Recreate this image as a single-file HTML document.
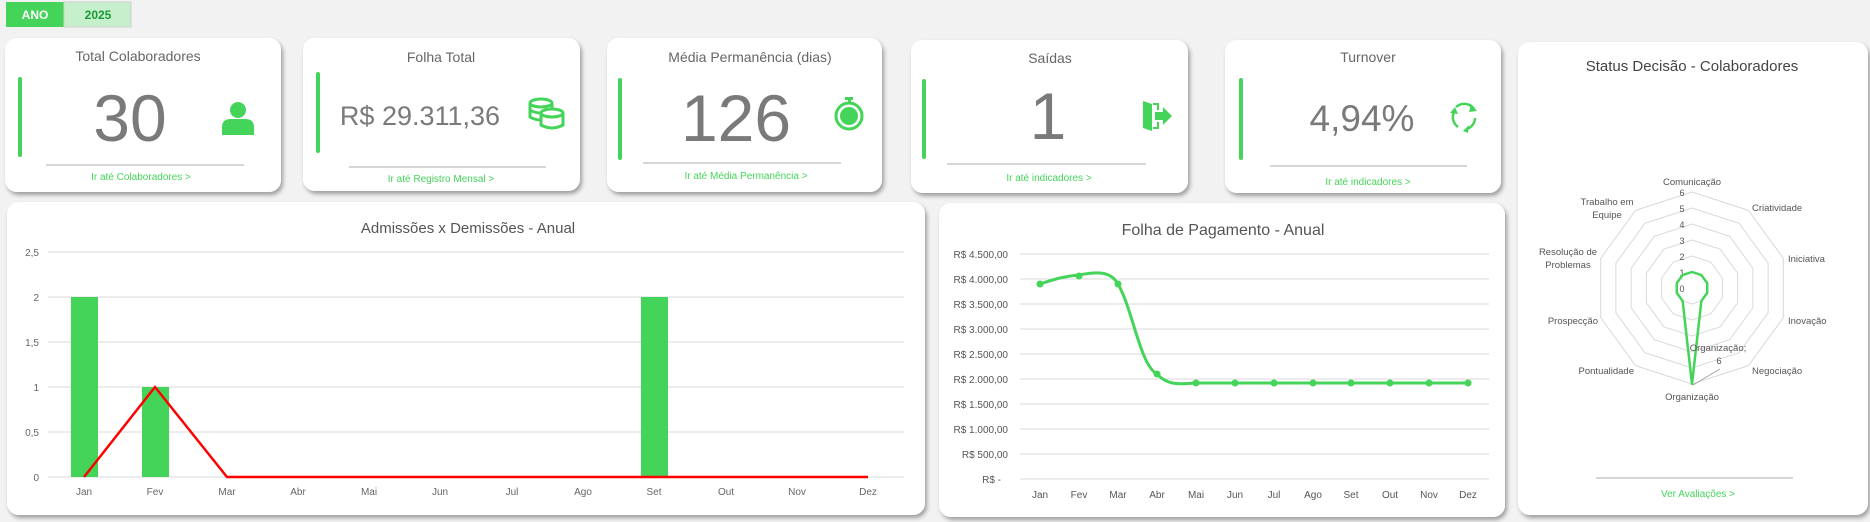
<!DOCTYPE html>
<html><head><meta charset="utf-8"><style>
html,body{margin:0;padding:0;background:#f2f2f2;}
svg{display:block;font-family:"Liberation Sans",sans-serif;}
</style></head><body>
<svg width="1870" height="522" viewBox="0 0 1870 522" xmlns="http://www.w3.org/2000/svg">
<defs>
<filter id="sh" x="-5%" y="-5%" width="112%" height="115%"><feDropShadow dx="2" dy="3" stdDeviation="2" flood-color="#000" flood-opacity="0.35"/></filter>
</defs>
<rect width="1870" height="522" fill="#f2f2f2"/>
<!-- ANO filter -->
<rect x="6" y="2" width="58" height="25" fill="#45d45a"/>
<rect x="64" y="2" width="67" height="25" fill="#c6efcb" stroke="#cfcfcf"/>
<text x="35" y="19" font-size="12" font-weight="bold" fill="#fff" text-anchor="middle">ANO</text>
<text x="98" y="19" font-size="12" font-weight="bold" fill="#1a9a35" text-anchor="middle">2025</text>

<g filter="url(#sh)" fill="#fff">
<rect x="5" y="38" width="276" height="154" rx="12"/>
<rect x="303" y="38" width="277" height="153" rx="12"/>
<rect x="607" y="38" width="275" height="154" rx="12"/>
<rect x="911" y="40" width="277" height="153" rx="12"/>
<rect x="1225" y="40" width="276" height="153" rx="12"/>
<rect x="1518" y="42" width="350" height="473" rx="12"/>
<rect x="7" y="202" width="918" height="313" rx="12"/>
<rect x="939" y="203" width="566" height="314" rx="12"/>
</g>

<g fill="#45d45a">
<rect x="18" y="77" width="4" height="80" rx="2"/>
<rect x="316" y="72" width="4" height="81" rx="2"/>
<rect x="618" y="78" width="4" height="82" rx="2"/>
<rect x="922" y="79" width="4" height="80" rx="2"/>
<rect x="1239" y="78" width="4" height="82" rx="2"/>
</g>

<g font-size="14" fill="#666" text-anchor="middle">
<text x="138" y="61">Total Colaboradores</text>
<text x="441" y="62">Folha Total</text>
<text x="750" y="62">Média Permanência (dias)</text>
<text x="1050" y="63">Saídas</text>
<text x="1368" y="62">Turnover</text>
</g>
<g fill="#7a7a7a" text-anchor="middle">
<text x="130" y="141" font-size="66">30</text>
<text x="420" y="125" font-size="27">R$ 29.311,36</text>
<text x="736" y="141" font-size="66">126</text>
<text x="1048" y="139" font-size="66">1</text>
<text x="1362" y="131" font-size="37">4,94%</text>
</g>
<g stroke="#bdbdbd" stroke-width="1.2">
<line x1="46" y1="165" x2="244" y2="165"/>
<line x1="349" y1="167" x2="546" y2="167"/>
<line x1="643" y1="163" x2="841" y2="163"/>
<line x1="947" y1="164" x2="1146" y2="164"/>
<line x1="1270" y1="166" x2="1467" y2="166"/>
<line x1="1596" y1="478" x2="1793" y2="478"/>
</g>
<g font-size="10" fill="#45d45a" text-anchor="middle">
<text x="141" y="180">Ir até Colaboradores &gt;</text>
<text x="441" y="182">Ir até Registro Mensal &gt;</text>
<text x="746" y="179">Ir até Média Permanência &gt;</text>
<text x="1049" y="181">Ir até indicadores &gt;</text>
<text x="1368" y="185">Ir até indicadores &gt;</text>
<text x="1698" y="497">Ver Avaliações &gt;</text>
</g>

<!-- icons -->
<g fill="#45d45a">
<circle cx="238" cy="110" r="8"/>
<path d="M222 135 L222 127 Q222 119 231 119 L245 119 Q254 119 254 127 L254 135 Z"/>
<!-- coins -->
<g fill="none" stroke="#45d45a" stroke-width="3">
<ellipse cx="541" cy="103" rx="11" ry="4"/>
<path d="M530 103 V118 M552 103 V110"/>
<ellipse cx="552" cy="113" rx="11" ry="4"/>
<path d="M541 113 V125 Q552 131 563 125 V113"/>
<path d="M530 110 Q535 113 541 113 M530 117 Q535 120 541 120"/>
</g>
<!-- stopwatch -->
<circle cx="849" cy="116" r="13" fill="none" stroke="#45d45a" stroke-width="3"/>
<circle cx="849" cy="116" r="9"/>
<rect x="845" y="97" width="8" height="3"/>
<rect x="848" y="99" width="3" height="5"/>
<!-- door -->
<path d="M1143 101 L1152 104 L1152 131 L1143 128 Z"/>
<path d="M1153 104 H1158 V110 M1153 128 H1158 V122" fill="none" stroke="#45d45a" stroke-width="2"/>
<path d="M1155 112 H1163 V107 L1172 116 L1163 125 V120 H1155 Z"/>
</g>
<!-- recycle -->
<g fill="none" stroke="#45d45a" stroke-width="2.5">
<path d="M1456 107 A12 12 0 0 1 1474 109"/>
<path d="M1475 118 A12 12 0 0 1 1467 129"/>
<path d="M1458 127 A12 12 0 0 1 1454 112"/>
</g>
<g fill="#45d45a">
<path d="M1471 104 L1477 111 L1469 112 Z"/>
<path d="M1469 125 L1463 131 L1468 133 Z"/>
<path d="M1450 113 L1455 107 L1458 114 Z"/>
</g>

<!-- Chart 1 -->
<text x="468" y="233" font-size="15" fill="#555" text-anchor="middle">Admissões x Demissões - Anual</text>
<g stroke="#d9d9d9" stroke-width="1">
<line x1="48" y1="252" x2="904" y2="252"/>
<line x1="48" y1="297" x2="904" y2="297"/>
<line x1="48" y1="342" x2="904" y2="342"/>
<line x1="48" y1="387" x2="904" y2="387"/>
<line x1="48" y1="432" x2="904" y2="432"/>
<line x1="48" y1="477" x2="904" y2="477"/>
</g>
<g font-size="10" fill="#666" text-anchor="end">
<text x="39" y="256">2,5</text><text x="39" y="301">2</text><text x="39" y="346">1,5</text>
<text x="39" y="391">1</text><text x="39" y="436">0,5</text><text x="39" y="481">0</text>
</g>
<g fill="#45d45a">
<rect x="71" y="297" width="27" height="180"/>
<rect x="142" y="387" width="27" height="90"/>
<rect x="641" y="297" width="27" height="180"/>
</g>
<polyline points="84,477 155,387 227,477 868,477" fill="none" stroke="#f00" stroke-width="2.5"/>
<g font-size="10" fill="#666" text-anchor="middle">
<text x="84" y="495">Jan</text><text x="155" y="495">Fev</text><text x="227" y="495">Mar</text>
<text x="298" y="495">Abr</text><text x="369" y="495">Mai</text><text x="440" y="495">Jun</text>
<text x="512" y="495">Jul</text><text x="583" y="495">Ago</text><text x="654" y="495">Set</text>
<text x="726" y="495">Out</text><text x="797" y="495">Nov</text><text x="868" y="495">Dez</text>
</g>

<!-- Chart 2 -->
<text x="1223" y="235" font-size="16" fill="#555" text-anchor="middle">Folha de Pagamento - Anual</text>
<g stroke="#d9d9d9" stroke-width="1">
<line x1="1020" y1="254" x2="1489" y2="254"/><line x1="1020" y1="279" x2="1489" y2="279"/>
<line x1="1020" y1="304" x2="1489" y2="304"/><line x1="1020" y1="329" x2="1489" y2="329"/>
<line x1="1020" y1="354" x2="1489" y2="354"/><line x1="1020" y1="379" x2="1489" y2="379"/>
<line x1="1020" y1="404" x2="1489" y2="404"/><line x1="1020" y1="429" x2="1489" y2="429"/>
<line x1="1020" y1="454" x2="1489" y2="454"/><line x1="1020" y1="479" x2="1489" y2="479"/>
</g>
<g font-size="10" fill="#555" text-anchor="end">
<text x="1008" y="258">R$ 4.500,00</text><text x="1008" y="283">R$ 4.000,00</text>
<text x="1008" y="308">R$ 3.500,00</text><text x="1008" y="333">R$ 3.000,00</text>
<text x="1008" y="358">R$ 2.500,00</text><text x="1008" y="383">R$ 2.000,00</text>
<text x="1008" y="408">R$ 1.500,00</text><text x="1008" y="433">R$ 1.000,00</text>
<text x="1008" y="458">R$ 500,00</text><text x="1001" y="483">R$ -</text>
</g>
<path d="M1040 284 C1055 279 1065 276 1079 275 C1095 272 1110 270 1118 284 C1133 310 1140 365 1157 374 C1168 386 1180 384 1196 383 L1468 383" fill="none" stroke="#45d45a" stroke-width="3"/>
<g fill="#45d45a">
<circle cx="1040" cy="284" r="3.5"/><circle cx="1079" cy="276" r="3.5"/><circle cx="1118" cy="284" r="3.5"/>
<circle cx="1157" cy="374" r="3.5"/><circle cx="1196" cy="383" r="3.5"/><circle cx="1235" cy="383" r="3.5"/>
<circle cx="1274" cy="383" r="3.5"/><circle cx="1313" cy="383" r="3.5"/><circle cx="1351" cy="383" r="3.5"/>
<circle cx="1390" cy="383" r="3.5"/><circle cx="1429" cy="383" r="3.5"/><circle cx="1468" cy="383" r="3.5"/>
</g>
<g font-size="10" fill="#555" text-anchor="middle">
<text x="1040" y="498">Jan</text><text x="1079" y="498">Fev</text><text x="1118" y="498">Mar</text>
<text x="1157" y="498">Abr</text><text x="1196" y="498">Mai</text><text x="1235" y="498">Jun</text>
<text x="1274" y="498">Jul</text><text x="1313" y="498">Ago</text><text x="1351" y="498">Set</text>
<text x="1390" y="498">Out</text><text x="1429" y="498">Nov</text><text x="1468" y="498">Dez</text>
</g>

<!-- Radar -->
<text x="1692" y="71" font-size="15" fill="#444" text-anchor="middle">Status Decisão - Colaboradores</text>
<g fill="none" stroke="#d9d9d9" stroke-width="1" transform="translate(1692,288)">
<polygon vector-effect="non-scaling-stroke" transform="scale(1)" points="0,-16 9.41,-12.94 15.22,-4.94 15.22,4.94 9.41,12.94 0,16 -9.41,12.94 -15.22,4.94 -15.22,-4.94 -9.41,-12.94"/>
<polygon vector-effect="non-scaling-stroke" transform="scale(2)" points="0,-16 9.41,-12.94 15.22,-4.94 15.22,4.94 9.41,12.94 0,16 -9.41,12.94 -15.22,4.94 -15.22,-4.94 -9.41,-12.94"/>
<polygon vector-effect="non-scaling-stroke" transform="scale(3)" points="0,-16 9.41,-12.94 15.22,-4.94 15.22,4.94 9.41,12.94 0,16 -9.41,12.94 -15.22,4.94 -15.22,-4.94 -9.41,-12.94"/>
<polygon vector-effect="non-scaling-stroke" transform="scale(4)" points="0,-16 9.41,-12.94 15.22,-4.94 15.22,4.94 9.41,12.94 0,16 -9.41,12.94 -15.22,4.94 -15.22,-4.94 -9.41,-12.94"/>
<polygon vector-effect="non-scaling-stroke" transform="scale(5)" points="0,-16 9.41,-12.94 15.22,-4.94 15.22,4.94 9.41,12.94 0,16 -9.41,12.94 -15.22,4.94 -15.22,-4.94 -9.41,-12.94"/>
<polygon vector-effect="non-scaling-stroke" transform="scale(6)" points="0,-16 9.41,-12.94 15.22,-4.94 15.22,4.94 9.41,12.94 0,16 -9.41,12.94 -15.22,4.94 -15.22,-4.94 -9.41,-12.94"/>
</g>
<g font-size="9" fill="#555" text-anchor="middle">
<text x="1682" y="196">6</text><text x="1682" y="212">5</text><text x="1682" y="228">4</text>
<text x="1682" y="244">3</text><text x="1682" y="260">2</text><text x="1682" y="276">1</text><text x="1682" y="292">0</text>
</g>
<line x1="1720" y1="369" x2="1693" y2="385" stroke="#999" stroke-width="0.8"/>
<polygon points="1692,272 1701.4,275.1 1707.2,283.1 1707.2,292.9 1701.4,300.9 1692,384 1682.6,300.9 1676.8,292.9 1676.8,283.1 1682.6,275.1" fill="none" stroke="#45d45a" stroke-width="2.5" stroke-linejoin="round"/>
<g font-size="9.5" fill="#555">
<text x="1692" y="185" text-anchor="middle">Comunicação</text>
<text x="1752" y="211">Criatividade</text>
<text x="1788" y="262">Iniciativa</text>
<text x="1788" y="324">Inovação</text>
<text x="1752" y="374">Negociação</text>
<text x="1692" y="400" text-anchor="middle">Organização</text>
<text x="1634" y="374" text-anchor="end">Pontualidade</text>
<text x="1598" y="324" text-anchor="end">Prospecção</text>
<text x="1568" y="255" text-anchor="middle">Resolução de</text>
<text x="1568" y="268" text-anchor="middle">Problemas</text>
<text x="1607" y="205" text-anchor="middle">Trabalho em</text>
<text x="1607" y="218" text-anchor="middle">Equipe</text>
<text x="1718" y="351" text-anchor="middle">Organização;</text>
<text x="1719" y="364" text-anchor="middle">6</text>
</g>
</svg>
</body></html>
